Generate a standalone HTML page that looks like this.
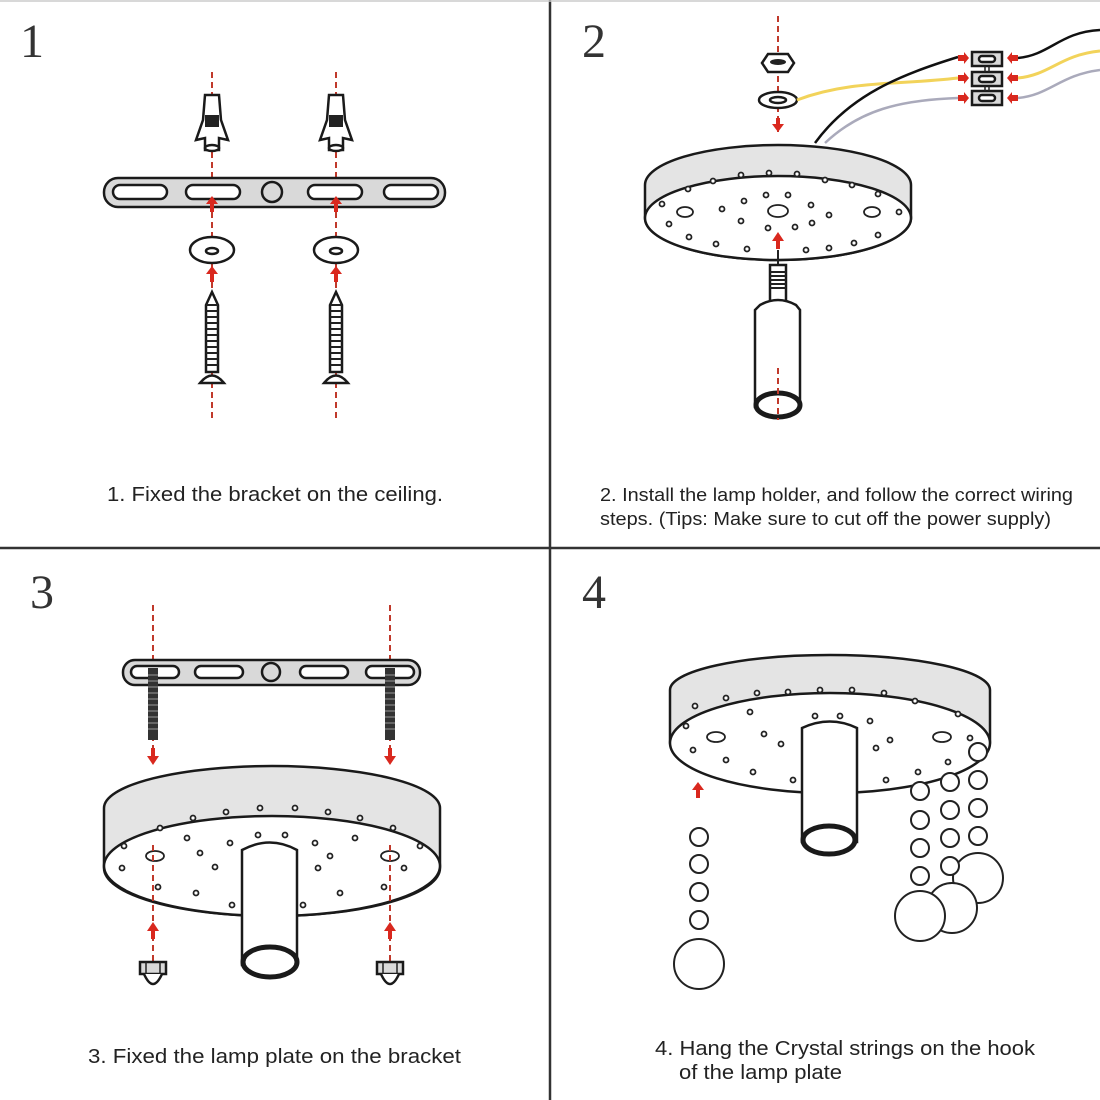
<!DOCTYPE html>
<html><head><meta charset="utf-8"><style>
html,body{margin:0;padding:0;background:#fff;}
svg{display:block}
text{font-family:"Liberation Sans",sans-serif;fill:#222}
.n{font-family:"Liberation Serif",serif;font-size:48px;fill:#333}
.k{stroke:#1a1a1a;stroke-width:2.5;fill:#fff}
.g{stroke:#1a1a1a;stroke-width:2.5;fill:#d9d9d9}
.d{stroke:#c0392b;stroke-width:2;stroke-dasharray:6,4;fill:none}
.a{fill:#d9281e}
.h{fill:#fff;stroke:#222;stroke-width:1.8}
</style></head><body>
<svg width="1100" height="1100" viewBox="0 0 1100 1100">
<rect x="0" y="0" width="1100" height="1100" fill="#fff"/>
<line x1="550" y1="0" x2="550" y2="1100" stroke="#333" stroke-width="2.5"/>
<line x1="0" y1="548" x2="1100" y2="548" stroke="#333" stroke-width="2.5"/>
<line x1="0" y1="1" x2="1100" y2="1" stroke="#ccc" stroke-width="1.5"/>
<text class="n" x="20" y="57">1</text>
<text class="n" x="582" y="57">2</text>
<text class="n" x="30" y="608">3</text>
<text class="n" x="582" y="608">4</text>

<!-- Panel 1 -->
<line class="d" x1="212" y1="72" x2="212" y2="422"/>
<line class="d" x1="336" y1="72" x2="336" y2="422"/>
<g id="anc">
<path class="k" d="M205 95 L219 95 L221 120 L228 140 L219 138 L219 150 L205 150 L205 138 L196 140 L203 120 Z" fill="#ccc"/>
<rect x="205" y="115" width="14" height="12" fill="#222"/>
<ellipse class="k" cx="212" cy="148" rx="7" ry="3"/>
</g>
<use href="#anc" x="124"/>
<rect x="104" y="178" width="341" height="29" rx="14" class="g"/>
<rect x="113" y="185" width="54" height="14" rx="7" class="k"/>
<rect x="186" y="185" width="54" height="14" rx="7" class="k"/>
<rect x="308" y="185" width="54" height="14" rx="7" class="k"/>
<rect x="384" y="185" width="54" height="14" rx="7" class="k"/>
<circle cx="272" cy="192" r="10" class="g"/>
<path class="a" d="M212 196 l-6 8 h4 v8 h4 v-8 h4z M336 196 l-6 8 h4 v8 h4 v-8 h4z M212 266 l-6 8 h4 v8 h4 v-8 h4z M336 266 l-6 8 h4 v8 h4 v-8 h4z"/>
<ellipse class="k" cx="212" cy="250" rx="22" ry="13"/><ellipse class="k" cx="212" cy="251" rx="6" ry="3"/>
<ellipse class="k" cx="336" cy="250" rx="22" ry="13"/><ellipse class="k" cx="336" cy="251" rx="6" ry="3"/>
<g id="scr">
<path class="k" d="M212 292 L218 305 L218 372 L206 372 L206 305 Z" stroke-width="2"/>
<path d="M206 305 h12 M206 311 h12 M206 317 h12 M206 323 h12 M206 329 h12 M206 335 h12 M206 341 h12 M206 347 h12 M206 353 h12 M206 359 h12 M206 365 h12" stroke="#222" stroke-width="2"/>
<path class="k" d="M200 383 Q212 368 224 383 Z" stroke-width="2"/>
</g>
<use href="#scr" x="124"/>
<text x="107" y="501" font-size="20" textLength="336" lengthAdjust="spacingAndGlyphs">1. Fixed the bracket on the ceiling.</text>

<!-- Panel 2 -->
<line class="d" x1="778" y1="16" x2="778" y2="135"/>
<path class="k" d="M762 63 l6 -9 h20 l6 9 l-6 9 h-20z" fill="#ccc"/>
<ellipse cx="778" cy="62" rx="8" ry="3" fill="#222"/>
<ellipse class="k" cx="778" cy="100" rx="19" ry="8"/><ellipse class="k" cx="778" cy="100" rx="8" ry="3"/>
<path class="a" d="M772 124 h4 v-6 h4 v6 h4 l-6 8z"/>
<path d="M797 100 C850 80 900 85 958 78" stroke="#f2d35a" stroke-width="3" fill="none"/>
<path d="M815 143 C850 95 900 75 958 57" stroke="#111" stroke-width="2.5" fill="none"/>
<path d="M825 143 C860 110 900 100 958 98" stroke="#aab" stroke-width="2.5" fill="none"/>
<path d="M1018 58 C1050 55 1060 32 1100 30" stroke="#111" stroke-width="2.5" fill="none"/>
<path d="M1018 78 C1050 75 1060 55 1100 51" stroke="#f2d35a" stroke-width="3" fill="none"/>
<path d="M1018 98 C1050 95 1060 75 1100 70" stroke="#aab" stroke-width="2.5" fill="none"/>
<rect x="972" y="52" width="30" height="14" class="g" stroke-width="2"/><rect x="979" y="56" width="16" height="6" rx="3" class="k" stroke-width="1"/>
<rect x="972" y="72" width="30" height="14" class="g" stroke-width="2"/><rect x="979" y="76" width="16" height="6" rx="3" class="k" stroke-width="1"/>
<rect x="972" y="91" width="30" height="14" class="g" stroke-width="2"/><rect x="979" y="95" width="16" height="6" rx="3" class="k" stroke-width="1"/>
<path d="M985 66 v6 M989 66 v6 M985 86 v5 M989 86 v5" stroke="#222" stroke-width="1.5"/>
<path class="a" d="M958 55 h6 v-3 l5 6 l-5 6 v-3 h-6z M958 75 h6 v-3 l5 6 l-5 6 v-3 h-6z M958 95 h6 v-3 l5 6 l-5 6 v-3 h-6z M1018 55 h-6 v-3 l-5 6 l5 6 v-3 h6z M1018 75 h-6 v-3 l-5 6 l5 6 v-3 h6z M1018 95 h-6 v-3 l-5 6 l5 6 v-3 h6z"/>
<path d="M645 185 A133 40 0 0 1 911 185 L911 218 A133 42 0 0 1 645 218 Z" fill="#e4e4e4" stroke="#1a1a1a" stroke-width="2.5"/>
<ellipse cx="778" cy="218" rx="133" ry="42" fill="#fff" stroke="#1a1a1a" stroke-width="2.5"/>
<g class="h">
<ellipse cx="685" cy="212" rx="8" ry="5"/><ellipse cx="872" cy="212" rx="8" ry="5"/><ellipse cx="778" cy="211" rx="10" ry="6"/>
<circle cx="713" cy="181" r="2.5"/><circle cx="741" cy="175" r="2.5"/><circle cx="769" cy="173" r="2.5"/><circle cx="797" cy="174" r="2.5"/><circle cx="825" cy="180" r="2.5"/><circle cx="852" cy="185" r="2.5"/>
<circle cx="688" cy="189" r="2.5"/><circle cx="878" cy="194" r="2.5"/><circle cx="766" cy="195" r="2.5"/><circle cx="788" cy="195" r="2.5"/><circle cx="744" cy="201" r="2.5"/><circle cx="811" cy="205" r="2.5"/>
<circle cx="662" cy="204" r="2.5"/><circle cx="722" cy="209" r="2.5"/><circle cx="829" cy="215" r="2.5"/><circle cx="899" cy="212" r="2.5"/>
<circle cx="669" cy="224" r="2.5"/><circle cx="741" cy="221" r="2.5"/><circle cx="768" cy="228" r="2.5"/><circle cx="795" cy="227" r="2.5"/><circle cx="812" cy="223" r="2.5"/><circle cx="878" cy="235" r="2.5"/>
<circle cx="689" cy="237" r="2.5"/><circle cx="716" cy="244" r="2.5"/><circle cx="747" cy="249" r="2.5"/><circle cx="806" cy="250" r="2.5"/><circle cx="829" cy="248" r="2.5"/><circle cx="854" cy="243" r="2.5"/>
</g>
<path class="a" d="M778 232 l-6 9 h4 v8 h4 v-8 h4z"/>
<line x1="778" y1="250" x2="778" y2="265" stroke="#222" stroke-width="2"/>
<rect x="770" y="265" width="16" height="40" class="k" stroke-width="2"/>
<path d="M770 272 h16 M770 276 h16 M770 280 h16 M770 284 h16 M770 288 h16" stroke="#222" stroke-width="2"/>
<path class="k" d="M760 305 Q778 295 796 305 L800 310 L800 407 L755 407 L755 310 Z"/>
<ellipse cx="778" cy="405" rx="22" ry="12" fill="#fff" stroke="#1a1a1a" stroke-width="5"/>
<line class="d" x1="778" y1="368" x2="778" y2="420"/>
<text x="600" y="501" font-size="18" textLength="473" lengthAdjust="spacingAndGlyphs">2. Install the lamp holder, and follow the correct wiring</text>
<text x="600" y="525" font-size="18" textLength="451" lengthAdjust="spacingAndGlyphs">steps. (Tips: Make sure to cut off the power supply)</text>

<!-- Panel 3 -->
<line class="d" x1="153" y1="605" x2="153" y2="765"/>
<line class="d" x1="390" y1="605" x2="390" y2="765"/>
<rect x="123" y="660" width="297" height="25" rx="12" class="g"/>
<rect x="131" y="666" width="48" height="12" rx="6" class="k"/>
<rect x="195" y="666" width="48" height="12" rx="6" class="k"/>
<rect x="300" y="666" width="48" height="12" rx="6" class="k"/>
<rect x="366" y="666" width="48" height="12" rx="6" class="k"/>
<circle cx="271" cy="672" r="9" class="g"/>
<rect x="148" y="668" width="10" height="72" fill="#333"/><rect x="385" y="668" width="10" height="72" fill="#333"/>
<path d="M148 675 h10 M148 681 h10 M148 687 h10 M148 693 h10 M148 699 h10 M148 705 h10 M148 711 h10 M148 717 h10 M148 723 h10 M148 729 h10 M385 675 h10 M385 681 h10 M385 687 h10 M385 693 h10 M385 699 h10 M385 705 h10 M385 711 h10 M385 717 h10 M385 723 h10 M385 729 h10" stroke="#777" stroke-width="1.5"/>
<path class="a" d="M147 756 h4 v-8 h4 v8 h4 l-6 9z M384 756 h4 v-8 h4 v8 h4 l-6 9z"/>
<path d="M104 808 A168 42 0 0 1 440 808 L440 868 A168 48 0 0 1 104 868 Z" fill="#e4e4e4" stroke="#1a1a1a" stroke-width="2.5"/>
<ellipse cx="272" cy="866" rx="168" ry="50" fill="#fff" stroke="#1a1a1a" stroke-width="2.5"/>
<g class="h">
<ellipse cx="155" cy="856" rx="9" ry="5"/><ellipse cx="390" cy="856" rx="9" ry="5"/>
<circle cx="160" cy="828" r="2.5"/><circle cx="193" cy="818" r="2.5"/><circle cx="226" cy="812" r="2.5"/><circle cx="260" cy="808" r="2.5"/><circle cx="295" cy="808" r="2.5"/><circle cx="328" cy="812" r="2.5"/><circle cx="360" cy="818" r="2.5"/><circle cx="393" cy="828" r="2.5"/>
<circle cx="124" cy="846" r="2.5"/><circle cx="187" cy="838" r="2.5"/><circle cx="230" cy="843" r="2.5"/><circle cx="258" cy="835" r="2.5"/><circle cx="285" cy="835" r="2.5"/><circle cx="315" cy="843" r="2.5"/><circle cx="355" cy="838" r="2.5"/><circle cx="420" cy="846" r="2.5"/>
<circle cx="200" cy="853" r="2.5"/><circle cx="330" cy="856" r="2.5"/><circle cx="215" cy="867" r="2.5"/><circle cx="318" cy="868" r="2.5"/><circle cx="122" cy="868" r="2.5"/><circle cx="404" cy="868" r="2.5"/>
<circle cx="158" cy="887" r="2.5"/><circle cx="196" cy="893" r="2.5"/><circle cx="232" cy="905" r="2.5"/><circle cx="303" cy="905" r="2.5"/><circle cx="340" cy="893" r="2.5"/><circle cx="384" cy="887" r="2.5"/>
</g>
<line class="d" x1="153" y1="845" x2="153" y2="965"/>
<line class="d" x1="390" y1="845" x2="390" y2="965"/>
<path class="a" d="M153 922 l-6 9 h4 v8 h4 v-8 h4z M390 922 l-6 9 h4 v8 h4 v-8 h4z"/>
<path class="k" d="M242 850 Q270 835 297 850 L297 965 L242 965 Z"/>
<ellipse cx="270" cy="962" rx="27" ry="15" fill="#fff" stroke="#1a1a1a" stroke-width="5"/>
<g id="nut"><rect x="140" y="962" width="26" height="12" class="g" stroke-width="2"/><path class="k" d="M144 974 Q153 994 162 974" stroke-width="2"/><path d="M146 962 v12 M160 962 v12" stroke="#222" stroke-width="1.5"/></g>
<use href="#nut" x="237"/>
<text x="88" y="1063" font-size="20" textLength="373" lengthAdjust="spacingAndGlyphs">3. Fixed the lamp plate on the bracket</text>

<!-- Panel 4 -->
<path d="M670 690 A160 35 0 0 1 990 690 L990 742 A160 50 0 0 1 670 742 Z" fill="#e4e4e4" stroke="#1a1a1a" stroke-width="2.5"/>
<ellipse cx="830" cy="743" rx="160" ry="50" fill="#fff" stroke="#1a1a1a" stroke-width="2.5"/>
<g class="h">
<ellipse cx="716" cy="737" rx="9" ry="5"/><ellipse cx="942" cy="737" rx="9" ry="5"/>
<circle cx="726" cy="698" r="2.5"/><circle cx="757" cy="693" r="2.5"/><circle cx="788" cy="692" r="2.5"/><circle cx="820" cy="690" r="2.5"/><circle cx="852" cy="690" r="2.5"/><circle cx="884" cy="693" r="2.5"/><circle cx="915" cy="701" r="2.5"/>
<circle cx="695" cy="706" r="2.5"/><circle cx="750" cy="712" r="2.5"/><circle cx="815" cy="716" r="2.5"/><circle cx="840" cy="716" r="2.5"/><circle cx="870" cy="721" r="2.5"/><circle cx="958" cy="714" r="2.5"/>
<circle cx="686" cy="726" r="2.5"/><circle cx="764" cy="734" r="2.5"/><circle cx="781" cy="744" r="2.5"/><circle cx="876" cy="748" r="2.5"/><circle cx="890" cy="740" r="2.5"/><circle cx="970" cy="738" r="2.5"/>
<circle cx="693" cy="750" r="2.5"/><circle cx="726" cy="760" r="2.5"/><circle cx="753" cy="772" r="2.5"/><circle cx="793" cy="780" r="2.5"/><circle cx="886" cy="780" r="2.5"/><circle cx="918" cy="772" r="2.5"/><circle cx="948" cy="762" r="2.5"/>
</g>
<path class="k" d="M802 728 Q830 715 857 728 L857 842 L802 842 Z"/>
<ellipse cx="829" cy="840" rx="26" ry="14" fill="#fff" stroke="#1a1a1a" stroke-width="5"/>
<path class="a" d="M698 782 l-6 8 h4 v8 h4 v-8 h4z"/>
<g fill="#fff" stroke="#222" stroke-width="2">
<circle cx="699" cy="837" r="9"/><circle cx="699" cy="864" r="9"/><circle cx="699" cy="892" r="9"/><circle cx="699" cy="920" r="9"/><circle cx="699" cy="964" r="25"/>
<circle cx="978" cy="752" r="9"/><circle cx="978" cy="780" r="9"/><circle cx="978" cy="808" r="9"/><circle cx="978" cy="836" r="9"/><circle cx="978" cy="878" r="25"/>
<circle cx="950" cy="782" r="9"/><circle cx="950" cy="810" r="9"/><circle cx="950" cy="838" r="9"/><circle cx="950" cy="866" r="9"/><circle cx="952" cy="908" r="25"/>
<circle cx="920" cy="791" r="9"/><circle cx="920" cy="820" r="9"/><circle cx="920" cy="848" r="9"/><circle cx="920" cy="876" r="9"/><circle cx="920" cy="916" r="25"/>
</g>
<text x="655" y="1055" font-size="20" textLength="380" lengthAdjust="spacingAndGlyphs">4. Hang the Crystal strings on the hook</text>
<text x="679" y="1079" font-size="20" textLength="163" lengthAdjust="spacingAndGlyphs">of the lamp plate</text>
</svg>
</body></html>
